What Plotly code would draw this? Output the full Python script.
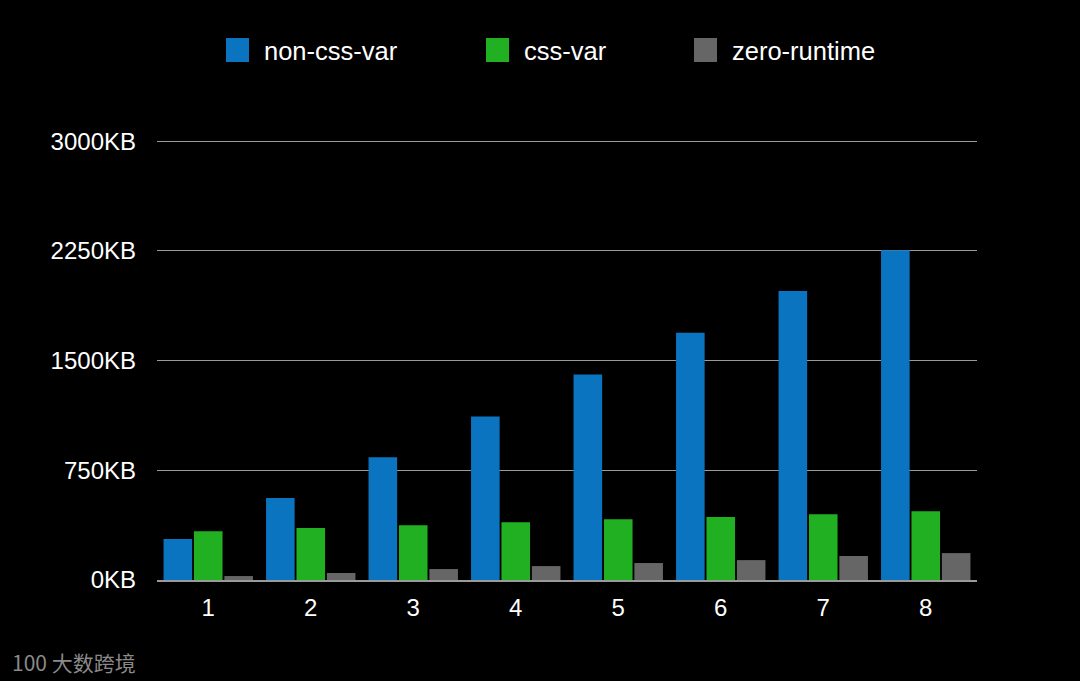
import plotly.graph_objects as go

categories = ["1", "2", "3", "4", "5", "6", "7", "8"]
non_css_var = [280, 560, 840, 1118, 1405, 1690, 1975, 2255]
css_var = [334, 355, 375, 395, 416, 430, 450, 470]
zero_runtime = [27, 48, 75, 95, 116, 136, 164, 184]
y_ticks = [0, 750, 1500, 2250, 3000]
y_tick_text = ["0KB", "750KB", "1500KB", "2250KB", "3000KB"]
series_names = ["non-css-var", "css-var", "zero-runtime"]
series_colors = ["#0a74c0", "#21b021", "#666666"]

FONT = "Liberation Sans, Arial, Helvetica, sans-serif"
W, H = 1080, 681
ML, MR, MT, MB = 157, 103, 140, 101
PW = W - ML - MR
PH = H - MT - MB


def px_x(p):
    return (p - ML) / PW


def px_y(p):
    return (H - MB - p) / PH


fig = go.Figure()
for name, vals, col in zip(series_names, [non_css_var, css_var, zero_runtime], series_colors):
    fig.add_trace(go.Bar(name=name, x=categories, y=vals, showlegend=False,
                         marker=dict(color=col, line=dict(width=0))))

# custom legend (large squares, spacing as in the reference)
legend_sq_left = [226, 486, 694]
shapes = []
annotations = []
for name, col, lx in zip(series_names, series_colors, legend_sq_left):
    shapes.append(dict(type="rect", xref="paper", yref="paper",
                       x0=px_x(lx), x1=px_x(lx + 23), y0=px_y(62), y1=px_y(38),
                       fillcolor=col, line=dict(width=0)))
    annotations.append(dict(text=name, xref="paper", yref="paper",
                            x=px_x(lx + 36), y=px_y(51), xanchor="left", yanchor="middle",
                            showarrow=False, font=dict(family=FONT, size=25.5, color="white")))

annotations.append(dict(text="100 大数跨境", xref="paper", yref="paper",
                        x=px_x(10), y=px_y(662), xanchor="left", yanchor="middle",
                        showarrow=False,
                        font=dict(family="Noto Sans CJK SC", size=21, color="#8a8a8a")))

fig.update_layout(
    width=W, height=H,
    paper_bgcolor="black", plot_bgcolor="black",
    font=dict(family=FONT, color="white", size=24),
    margin=dict(l=ML, r=MR, t=MT, b=MB),
    barmode="group", bargap=0.11, bargroupgap=0.06,
    showlegend=False,
    xaxis=dict(showgrid=False, showline=True, linecolor="#9a9a9a", linewidth=1.5,
               ticks="outside", ticklen=5, tickcolor="black",
               tickfont=dict(size=24, color="white")),
    yaxis=dict(range=[0, 3008], tickvals=y_ticks, ticktext=y_tick_text,
               showgrid=True, gridcolor="#9a9a9a", gridwidth=1, zeroline=False,
               showline=False, ticks="", ticklabelstandoff=20,
               tickfont=dict(size=24, color="white")),
    shapes=shapes,
    annotations=annotations,
)

fig.write_html("out.html", config={"displayModeBar": False},
               post_script="document.body.style.margin='0';document.body.style.background='black';")
